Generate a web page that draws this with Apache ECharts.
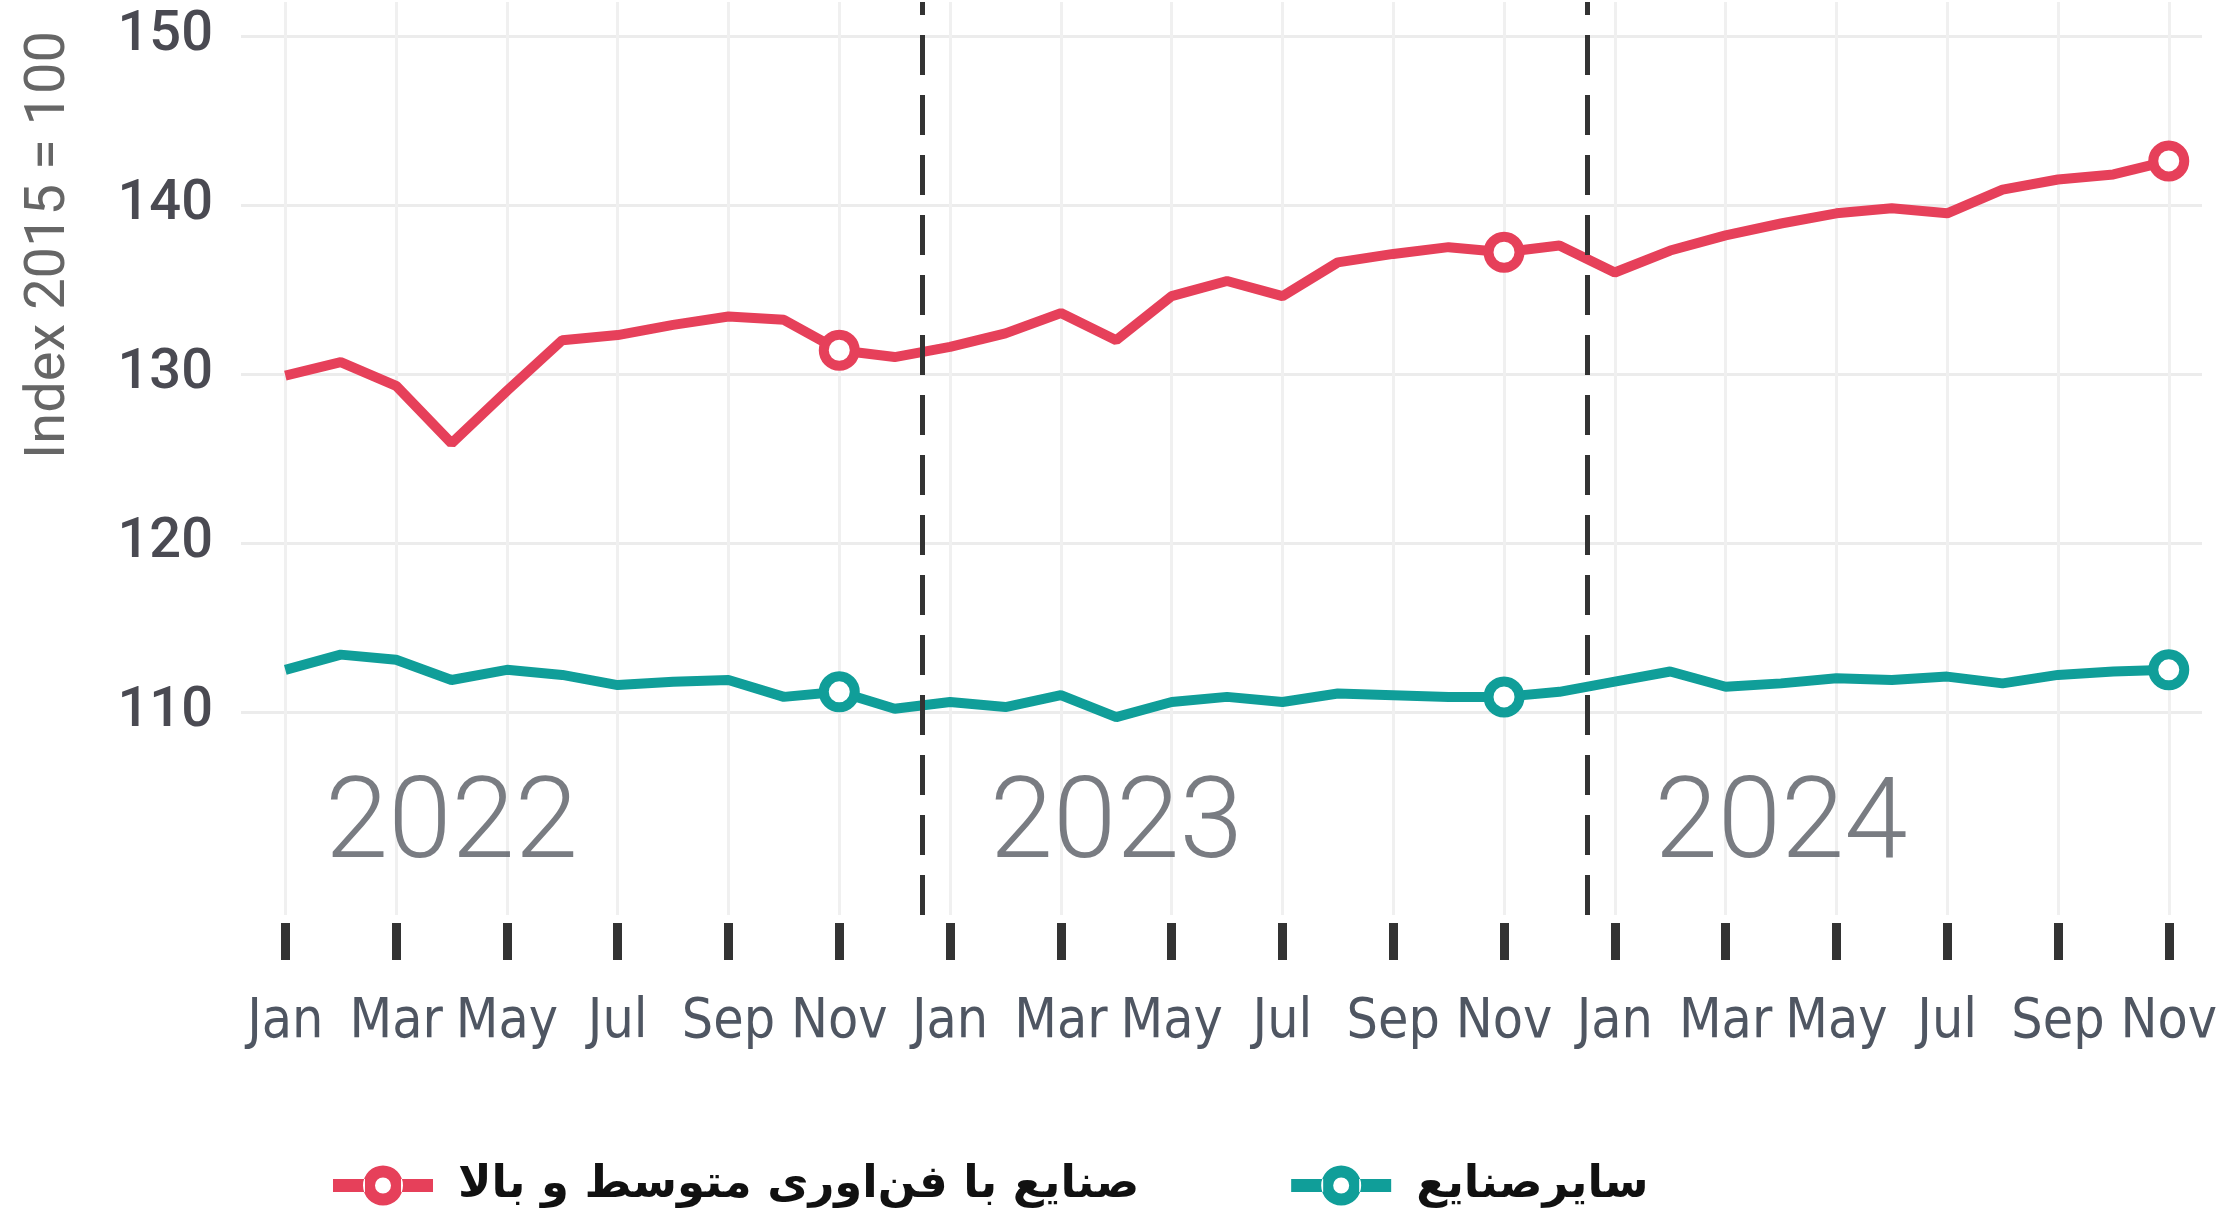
<!DOCTYPE html>
<html>
<head>
<meta charset="utf-8">
<script src="https://cdn.jsdelivr.net/npm/echarts@6/dist/echarts.min.js"></script>
<style>
  html, body { margin: 0; padding: 0; background: #fff; }
  #chart { width: 2236px; height: 1219px; }
</style>
</head>
<body>
<div id="chart"></div>
<script>
// --- data ---
var monthNames = ['Jan', 'Feb', 'Mar', 'Apr', 'May', 'Jun', 'Jul', 'Aug', 'Sep', 'Oct', 'Nov', 'Dec'];
var years = ['2022', '2023', '2024'];
var tickNames = ['Jan', 'Mar', 'May', 'Jul', 'Sep', 'Nov'];

// month-by-month index (2015 = 100), Jan 2022 .. Nov 2024
var highTech = [
  129.9, 130.7, 129.3, 125.9, 129.0, 132.0, 132.3, 132.9, 133.4, 133.2, 131.4, 131.0,
  131.6, 132.4, 133.6, 132.0, 134.6, 135.5, 134.6, 136.6, 137.1, 137.5, 137.2, 137.6,
  136.0, 137.3, 138.2, 138.9, 139.5, 139.8, 139.5, 140.9, 141.5, 141.8, 142.6
];
var otherInd = [
  112.5, 113.4, 113.1, 111.9, 112.5, 112.2, 111.6, 111.8, 111.9, 110.9, 111.2, 110.2,
  110.6, 110.3, 111.0, 109.7, 110.6, 110.9, 110.6, 111.1, 111.0, 110.9, 110.9, 111.2,
  111.8, 112.4, 111.5, 111.7, 112.0, 111.9, 112.1, 111.7, 112.2, 112.4, 112.5
];
var markerMonths = [10, 22, 34];
var yearBreaks = [11.5, 23.5];
var yearLabelAt = [3, 15, 27];
var yearLabelLevel = 103.1;
var yTicks = [110, 120, 130, 140, 150];

var seriesNames = ['صنایع با فن‌اوری متوسط و بالا', 'سایرصنایع'];
var red = '#e6405a';
var teal = '#109e99';

// month list from the year/month names
var months = [];
years.forEach(function(y) {
  monthNames.forEach(function(m) { months.push(m); });
});
months = months.slice(0, highTech.length);

var tickMonths = [];
months.forEach(function(m, i) { if (tickNames.indexOf(m) > -1) tickMonths.push(i); });

function toPoints(arr, color) {
  return arr.map(function(v, i) {
    if (markerMonths.indexOf(i) > -1) {
      return {
        value: [i, v],
        symbol: 'circle',
        itemStyle: { color: '#fff', borderColor: color, borderWidth: 10 }
      };
    }
    return { value: [i, v], symbol: 'none' };
  });
}

var legendIcon = 'path://M0,13.5 L32,13.5 L32,26.5 L0,26.5 Z M68,13.5 L100,13.5 L100,26.5 L68,26.5 Z ' +
  'M30,20 A20,20 0 1,0 70,20 A20,20 0 1,0 30,20 Z M42,20 A8,8 0 1,1 58,20 A8,8 0 1,1 42,20 Z';

var chart = echarts.init(document.getElementById('chart'));
chart.setOption({
  animation: false,
  backgroundColor: '#fff',
  grid: { left: 241, right: 34, top: 2, bottom: 304 },
  legend: {
    left: 328,
    top: 1158,
    itemWidth: 100,
    itemHeight: 40,
    itemGap: 152,
    data: [
      { name: seriesNames[0], icon: legendIcon, itemStyle: { color: red } },
      { name: seriesNames[1], icon: legendIcon, itemStyle: { color: teal } }
    ],
    textStyle: {
      fontFamily: 'DejaVu Sans',
      fontSize: 45,
      fontWeight: 'bold',
      color: '#111',
      padding: [0, 0, 0, 20]
    }
  },
  graphic: [{
    type: 'text',
    x: 50,
    y: 245,
    rotation: Math.PI / 2,
    style: {
      text: 'Index 2015 = 100',
      fontFamily: 'Roboto',
      fontSize: 56,
      fill: '#666',
      align: 'center',
      verticalAlign: 'middle'
    }
  }],
  xAxis: {
    type: 'value',
    min: -0.8,
    max: 34.6,
    offset: 8,
    axisLine: { show: false },
    axisTick: {
      show: true,
      customValues: tickMonths,
      length: 37,
      lineStyle: { color: '#333', width: 9 }
    },
    axisLabel: {
      customValues: tickMonths,
      margin: 72,
      fontFamily: 'DejaVu Sans Condensed, Liberation Sans Narrow, sans-serif',
      fontSize: 55,
      color: '#4f5662',
      formatter: function(v) { return months[Math.round(v)]; }
    },
    splitLine: { show: true, lineStyle: { color: '#f0f0f0', width: 3 } }
  },
  yAxis: {
    type: 'value',
    min: 98,
    max: 152,
    axisLine: { show: false },
    axisTick: { show: false, customValues: yTicks },
    axisLabel: {
      customValues: yTicks,
      margin: 28,
      fontFamily: 'Roboto',
      fontWeight: 500,
      fontSize: 56,
      color: '#4a4a52'
    },
    splitLine: { show: true, lineStyle: { color: '#ececec', width: 3 } }
  },
  series: [
    {
      name: seriesNames[0],
      type: 'line',
      data: toPoints(highTech, red),
      symbolSize: 31,
      lineStyle: { color: red, width: 10 },
      itemStyle: { color: red },
      z: 3
    },
    {
      name: seriesNames[1],
      type: 'line',
      data: toPoints(otherInd, teal),
      symbolSize: 31,
      lineStyle: { color: teal, width: 10 },
      itemStyle: { color: teal },
      z: 3
    },
    {
      type: 'scatter',
      silent: true,
      symbolSize: 0,
      data: yearLabelAt.map(function(x) { return [x, yearLabelLevel]; }),
      label: {
        show: true,
        position: 'inside',
        formatter: function(p) { return years[p.dataIndex]; },
        fontFamily: 'Roboto',
        fontWeight: 300,
        fontSize: 114,
        color: '#585b63'
      },
      markLine: {
        silent: true,
        symbol: 'none',
        label: { show: false },
        lineStyle: { color: '#333', width: 5, type: [40, 20] },
        data: yearBreaks.map(function(x) { return { xAxis: x }; })
      },
      z: 4
    }
  ]
});
</script>
</body>
</html>
